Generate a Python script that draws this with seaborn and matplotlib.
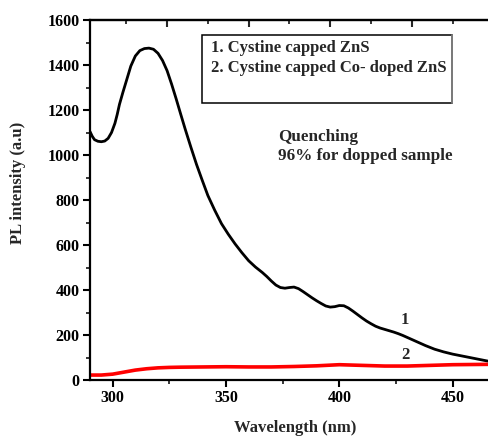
import matplotlib
matplotlib.use("Agg")
import matplotlib.pyplot as plt
from matplotlib.ticker import MultipleLocator, NullFormatter
from matplotlib.patches import Rectangle
import seaborn as sns

# ---- data ----
wl_black = [290, 291, 292, 293.5, 295, 296.5, 298, 299.5, 301, 302, 303, 304.5,
            306, 308, 310, 312, 314, 316, 318, 320, 322, 324, 326, 328, 330, 332,
            334.5, 337, 339.5, 342, 345, 348, 351, 354, 357, 360, 363, 366, 368,
            370, 372, 374, 376, 378, 380, 382, 384, 386, 388, 390, 392, 394, 396,
            398, 400, 402, 404, 406, 408, 410, 412, 414, 416, 418, 420, 422, 424,
            426, 428, 430, 432, 434, 436, 438, 440, 442, 444, 446, 448, 450, 453,
            456, 459, 462, 465, 468, 470]
pl_black = [1104, 1083, 1068, 1061, 1059, 1062, 1074, 1100, 1141, 1180, 1225, 1278,
            1328, 1395, 1440, 1464, 1473, 1475, 1470, 1452, 1420, 1375, 1315, 1250,
            1182, 1115, 1035, 958, 888, 820, 755, 695, 648, 605, 566, 530, 502, 478,
            460, 440, 422, 411, 408, 411, 413, 406, 393, 379, 365, 352, 340, 329,
            324, 326, 331, 330, 320, 306, 291, 276, 262, 250, 239, 231, 225, 219,
            213, 206, 198, 189, 180, 171, 162, 153, 145, 137, 131, 125, 120, 115,
            109, 103, 97, 91, 85, 79, 75]

wl_red = [290, 295, 300, 305, 310, 315, 320, 325, 330, 340, 350, 360, 370, 380,
          390, 400, 410, 420, 430, 440, 450, 460, 470]
pl_red = [22, 22, 26, 35, 44, 50, 54, 56, 57, 58, 59, 58, 58, 60,
          63, 68, 65, 62, 62, 65, 68, 69, 70]

legend_lines = ["1. Cystine capped ZnS", "2. Cystine capped Co- doped ZnS"]
note_lines = ["Quenching", "96% for dopped sample"]
curve_tags = ["1", "2"]

sns.set_style("ticks")
plt.rcParams['font.family'] = ['Liberation Serif', 'DejaVu Serif']
plt.rcParams['font.weight'] = 'bold'

fig = plt.figure(figsize=(4.88, 4.38), dpi=100)
W, H = 488.0, 438.0
ax = fig.add_axes([90 / W, 1 - 380 / H, 408 / W, 360 / H])

sns.lineplot(x=wl_black, y=pl_black, ax=ax, color='black', lw=2.0)
sns.lineplot(x=wl_red, y=pl_red, ax=ax, color='#ff0000', lw=2.6)

ax.set_xlim(290, 470)
ax.set_ylim(0, 1600)

ax.xaxis.set_major_locator(MultipleLocator(50))
ax.xaxis.set_minor_locator(MultipleLocator(25))
ax.yaxis.set_major_locator(MultipleLocator(200))
ax.yaxis.set_minor_locator(MultipleLocator(100))

for s in ['left', 'bottom', 'top']:
    ax.spines[s].set_linewidth(1.6)
    ax.spines[s].set_color('black')
ax.spines['right'].set_visible(False)

ax.tick_params(axis='both', which='major', direction='out', length=4.8, width=1.5,
               labelsize=11.5, pad=2.5, colors='black', top=False, right=False)
ax.tick_params(axis='both', which='minor', direction='out', length=2.6, width=1.3,
               top=False, right=False)
for lab in ax.get_xticklabels() + ax.get_yticklabels():
    lab.set_fontweight('bold')

# top axis with its own tick spacing (inward ticks, no labels)
sec = ax.secondary_xaxis('top')
sec.xaxis.set_major_locator(MultipleLocator(36))
sec.xaxis.set_minor_locator(MultipleLocator(18))
sec.xaxis.set_major_formatter(NullFormatter())
sec.tick_params(which='major', direction='in', length=4.8, width=1.5)
sec.tick_params(which='minor', direction='in', length=2.6, width=1.3)
sec.spines['top'].set_linewidth(1.6)

ax.set_xlabel("Wavelength (nm)", fontsize=12, fontweight='bold', va='center')
ax.set_ylabel("PL intensity (a.u)", fontsize=12, fontweight='bold', va='center')
ax.xaxis.set_label_coords((295 - 90) / 408, (380 - 428) / 360)
ax.yaxis.set_label_coords((18.5 - 90) / 408, (380 - 183) / 360)

# legend box
bx0, bx1 = (201.7 - 90) / 408, (451.7 - 90) / 408
by0, by1 = (380 - 103.3) / 360, (380 - 35) / 360
ax.add_patch(Rectangle((bx0, by0), bx1 - bx0, by1 - by0, transform=ax.transAxes,
                       facecolor='white', edgecolor='black', lw=1.1, zorder=5))
ax.plot([bx1, bx1], [by0, by1], transform=ax.transAxes, color='#888888', lw=1.2, zorder=6)
for txt, yc in zip(legend_lines, [48.3, 68.3]):
    ax.text((210.7 - 90) / 408, (380 - yc) / 360, txt, transform=ax.transAxes,
            fontsize=12, fontweight='bold', ha='left', va='center', zorder=7)

for txt, yc in zip(note_lines, [136.7, 155.5]):
    ax.text((278.3 - 90) / 408, (380 - yc) / 360, txt, transform=ax.transAxes,
            fontsize=12.3, fontweight='bold', ha='left', va='center')

for txt, (px, py) in zip(curve_tags, [(405, 320), (405, 355)]):
    ax.text((px - 90) / 408, (380 - py) / 360, txt, transform=ax.transAxes,
            fontsize=12, fontweight='bold', ha='center', va='center')

fig.savefig("out.png", dpi=100)
